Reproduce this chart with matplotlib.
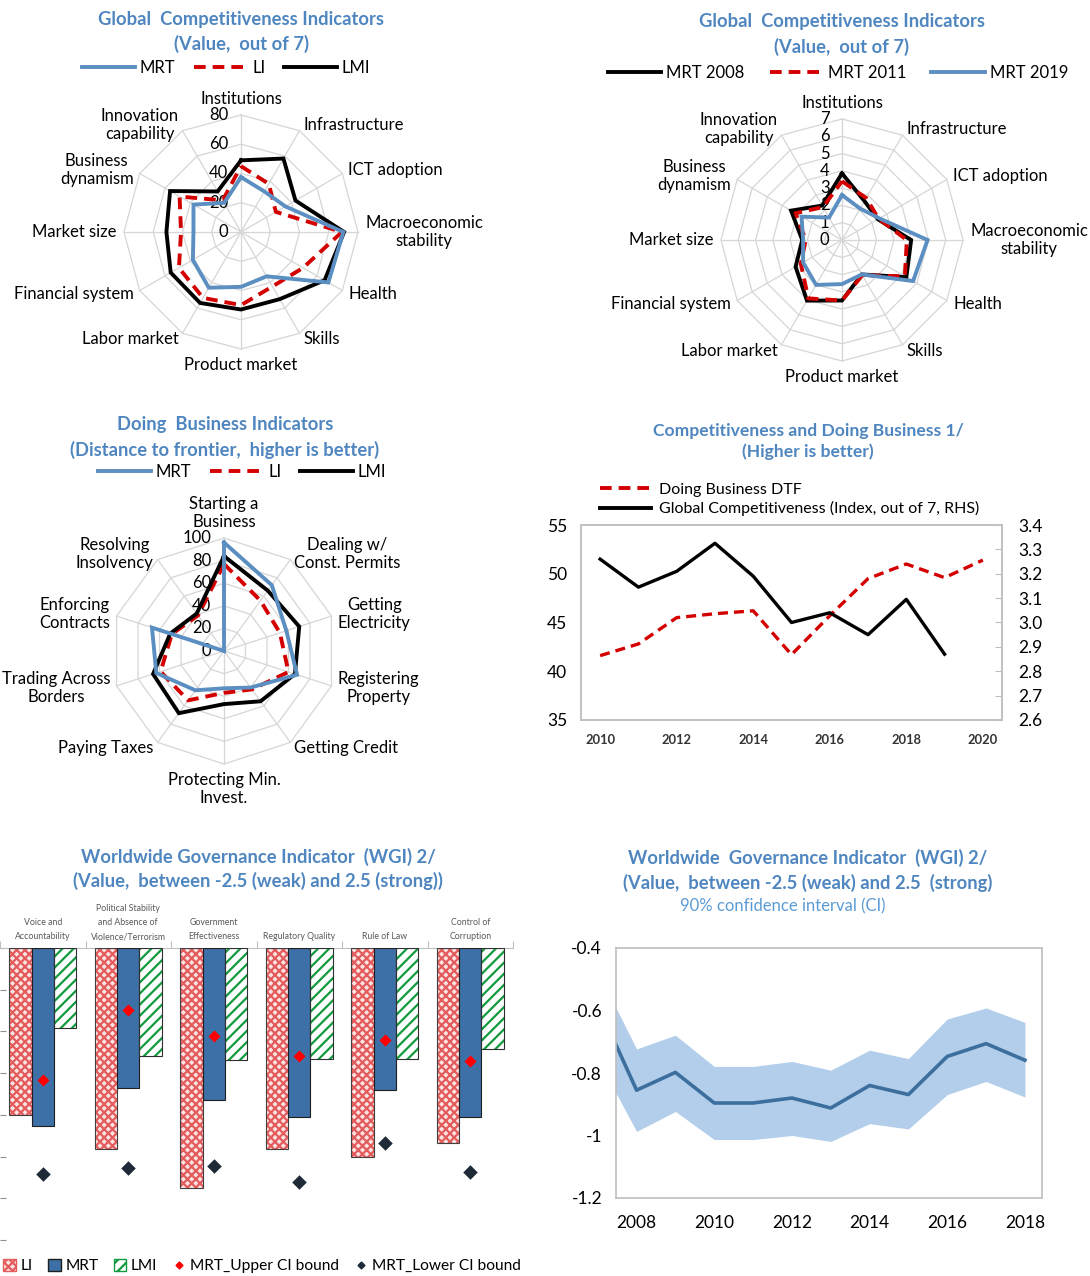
import numpy as np
import matplotlib
matplotlib.use("Agg")
import matplotlib.pyplot as plt
from matplotlib.lines import Line2D
from matplotlib.patches import Patch

plt.rcParams['font.family'] = ['Lato', 'DejaVu Sans']
plt.rcParams['hatch.linewidth'] = 1.6

# ---- data ----
gci_axes = ['Institutions', 'Infrastructure', 'ICT adoption', 'Macroeconomic\nstability', 'Health',
            'Skills', 'Product market', 'Labor market', 'Financial system', 'Market size',
            'Business\ndynamism', 'Innovation\ncapability']
mrt_gci = [37.5, 32, 35, 70, 69, 35, 37.5, 44, 38, 32.5, 37.5, 23]
li_gci = [45, 38, 27.5, 69, 49, 43, 50, 52, 49, 41, 48.5, 25]
lmi_gci = [49, 58, 43, 70.5, 66, 53, 53, 56, 55.5, 51, 56, 32]

mrt_2008 = [3.85, 2.6, 2.4, 4.0, 4.3, 2.3, 3.5, 4.05, 3.1, 2.3, 3.4, 2.3]
mrt_2011 = [3.4, 2.8, 2.45, 3.75, 4.2, 2.35, 3.5, 3.9, 2.75, 2.1, 3.1, 2.2]
mrt_2019 = [2.6, 2.1, 2.5, 4.95, 4.75, 2.3, 2.55, 3.0, 2.6, 2.25, 2.7, 1.5]

db_axes = ['Starting a\nBusiness', 'Dealing w/\nConst. Permits', 'Getting\nElectricity',
           'Registering\nProperty', 'Getting Credit', 'Protecting Min.\nInvest.', 'Paying Taxes',
           'Trading Across\nBorders', 'Enforcing\nContracts', 'Resolving\nInsolvency']
mrt_db = [96, 72, 58, 68, 40, 33, 43, 63, 67, 0]
li_db = [77, 55, 52, 60, 42, 37, 54, 59, 48.5, 39]
lmi_db = [84, 66, 70, 66, 55, 47, 68, 66, 50, 41]

dtf_years = [2010, 2011, 2012, 2013, 2014, 2015, 2016, 2017, 2018, 2019, 2020]
dtf = [41.6, 42.8, 45.5, 45.9, 46.2, 41.7, 45.7, 49.5, 51.0, 49.6, 51.4]
gci_years = [2010, 2011, 2012, 2013, 2014, 2015, 2016, 2017, 2018, 2019]
gci = [3.26, 3.145, 3.21, 3.325, 3.19, 3.0, 3.04, 2.95, 3.095, 2.87]

wgi_cats = ['Voice and\nAccountability', 'Political Stability\nand Absence of\nViolence/Terrorism',
            'Government\nEffectiveness', 'Regulatory Quality', 'Rule of Law', 'Control of\nCorruption']
wgi_li = [-0.80, -0.965, -1.149, -0.965, -1.003, -0.936]
wgi_mrt = [-0.853, -0.669, -0.728, -0.808, -0.68, -0.808]
wgi_lmi = [-0.384, -0.52, -0.539, -0.531, -0.531, -0.485]
wgi_upper = [-0.635, -0.296, -0.421, -0.517, -0.443, -0.544]
wgi_lower = [-1.085, -1.053, -1.045, -1.12, -0.936, -1.075]

ci_years = [2007, 2008, 2009, 2010, 2011, 2012, 2013, 2014, 2015, 2016, 2017, 2018]
ci_mid = [-0.581, -0.855, -0.798, -0.896, -0.896, -0.88, -0.912, -0.84, -0.869, -0.747, -0.706, -0.759]
ci_up = [-0.475, -0.723, -0.679, -0.779, -0.779, -0.763, -0.791, -0.727, -0.754, -0.627, -0.592, -0.638]
ci_lo = [-0.755, -0.987, -0.923, -1.013, -1.013, -1.0, -1.019, -0.962, -0.979, -0.869, -0.827, -0.877]

# ---- style ----
W, H = 1090, 1276
BLUE = '#5B8EC1'
RED = '#D40000'
TITLE = '#4F86C0'
GRID = '#D6D6D6'
FRAME = '#BFBFBF'
DASH = (3, 1.8)
FS = 12

fig = plt.figure(figsize=(W / 100, H / 100), dpi=100)


def px_box(l, t, r, b):
    return [l / W, 1 - b / H, (r - l) / W, (b - t) / H]


def title(x, y, s, size=13.2, weight='bold', color=TITLE):
    fig.text(x / W, 1 - y / H, s, ha='center', va='center', fontsize=size, weight=weight, color=color)


def radar(cx, cy, R, labels, series, vmax, step, fs=FS):
    ax = fig.add_axes(px_box(cx - R, cy - R, cx + R, cy + R), projection='polar')
    n = len(labels)
    ang = np.arange(n) * 2 * np.pi / n
    ax.set_theta_zero_location('N')
    ax.set_theta_direction(-1)
    ax.set_ylim(0, vmax)
    ax.axis('off')
    closed = np.append(ang, ang[0])
    for lev in np.arange(step, vmax + step / 2, step):
        ax.plot(closed, [lev] * (n + 1), color=GRID, lw=0.9, zorder=1, clip_on=False)
    for a in ang:
        ax.plot([a, a], [0, vmax], color=GRID, lw=0.9, zorder=1, clip_on=False)
    for lev in np.arange(0, vmax + step / 2, step):
        ax.annotate('%d' % lev, xy=(0, lev), xytext=(-9, 0), textcoords='offset points',
                    ha='right', va='center', fontsize=fs, zorder=2)
    for vals, color, dashed in series:
        v = np.append(vals, vals[0])
        line, = ax.plot(closed, v, color=color, lw=2.8, zorder=3, clip_on=False,
                        solid_joinstyle='miter')
        if dashed:
            line.set_dashes(DASH)
    for a, lab in zip(ang, labels):
        s, c = np.sin(a), np.cos(a)
        if abs(s) < 0.1:
            ax.text(a, vmax * 1.07, lab, ha='center', va='bottom' if c > 0 else 'top',
                    multialignment='center', fontsize=fs, linespacing=1.15)
        else:
            ax.text(a, vmax * 1.06, lab, ha='left' if s > 0 else 'right', va='center',
                    multialignment='center', fontsize=fs, linespacing=1.15)
    return ax


def line_handle(color, dashed):
    h = Line2D([], [], color=color, lw=2.8)
    if dashed:
        h.set_dashes(DASH)
    return h


# ---- panel 1: GCI radar, MRT vs LI vs LMI ----
title(241, 20, 'Global  Competitiveness Indicators')
title(241, 44, '(Value,  out of 7)')
radar(241, 232, 117, gci_axes,
      [(lmi_gci, 'black', False), (li_gci, RED, True), (mrt_gci, BLUE, False)], 80, 20)
fig.legend([line_handle(BLUE, False), line_handle(RED, True), line_handle('black', False)],
           ['MRT', 'LI', 'LMI'], loc='center', bbox_to_anchor=(226 / W, 1 - 68 / H), ncol=3,
           frameon=False, handlelength=3.2, columnspacing=1.1, handletextpad=0.3, fontsize=FS)

# ---- panel 2: GCI radar, MRT over time ----
title(842, 22, 'Global  Competitiveness Indicators')
title(842, 47, '(Value,  out of 7)')
radar(842, 240, 121, gci_axes,
      [(mrt_2008, 'black', False), (mrt_2011, RED, True), (mrt_2019, BLUE, False)], 7, 1)
fig.legend([line_handle('black', False), line_handle(RED, True), line_handle(BLUE, False)],
           ['MRT 2008', 'MRT 2011', 'MRT 2019'], loc='center', bbox_to_anchor=(838 / W, 1 - 73 / H),
           ncol=3, frameon=False, handlelength=3.2, columnspacing=1.5, handletextpad=0.3, fontsize=FS)

# ---- panel 3: Doing Business radar ----
title(225, 425, 'Doing  Business Indicators')
title(225, 450, '(Distance to frontier,  higher is better)')
radar(224, 651, 113, db_axes,
      [(li_db, RED, True), (lmi_db, 'black', False), (mrt_db, BLUE, False)], 100, 20)
fig.legend([line_handle(BLUE, False), line_handle(RED, True), line_handle('black', False)],
           ['MRT', 'LI', 'LMI'], loc='center', bbox_to_anchor=(242 / W, 1 - 472 / H), ncol=3,
           frameon=False, handlelength=3.2, columnspacing=1.1, handletextpad=0.3, fontsize=FS)

# ---- panel 4: DTF and GCI over time ----
title(808, 431, 'Competitiveness and Doing Business 1/', size=12.6)
title(808, 452, '(Higher is better)', size=12.6)
ax4 = fig.add_axes(px_box(581, 525, 1002, 720))
l1, = ax4.plot(dtf_years, dtf, color=RED, lw=2.4)
l1.set_dashes(DASH)
ax4.set_xlim(2009.5, 2020.5)
ax4.set_ylim(35, 55)
ax4.set_yticks(np.arange(35, 56, 5))
ax4.set_xticks(np.arange(2010, 2021, 2))
ax4.tick_params(axis='y', length=0, labelsize=12.5, pad=10)
ax4.tick_params(axis='x', length=0, labelsize=9.3, pad=10)
for t in ax4.get_xticklabels():
    t.set_fontweight('bold')
    t.set_color('#333333')
tw = ax4.twinx()
l2, = tw.plot(gci_years, gci, color='black', lw=2.4)
tw.set_ylim(2.6, 3.4)
tw.set_yticks(np.round(np.arange(2.6, 3.41, 0.1), 1))
tw.set_yticklabels(['%.1f' % v for v in np.arange(2.6, 3.41, 0.1)])
tw.tick_params(axis='y', length=5, direction='in', color=FRAME, labelsize=12.5, pad=12)
for a in (ax4, tw):
    for sp in a.spines.values():
        sp.set_color(FRAME)
        sp.set_linewidth(1.1)
fig.legend([line_handle(RED, True), line_handle('black', False)],
           ['Doing Business DTF', 'Global Competitiveness (Index, out of 7, RHS)'],
           loc='upper left', bbox_to_anchor=(586 / W, 1 - 468 / H), frameon=False,
           handlelength=3.2, handletextpad=0.45, fontsize=11.5, labelspacing=0.3)

# ---- panel 5: WGI bars ----
title(258, 857, 'Worldwide Governance Indicator  (WGI) 2/')
title(258, 881, '(Value,  between -2.5 (weak) and 2.5 (strong))')
ax5 = fig.add_axes(px_box(0, 948, 513, 1240))
x = np.arange(len(wgi_cats))
bw = 0.26
ax5.bar(x - bw, wgi_li, bw, color='#FBE3E3', hatch='xxxx', edgecolor='#E35B5B', lw=0, zorder=2)
ax5.bar(x - bw, wgi_li, bw, fill=False, edgecolor='#404040', lw=0.8, zorder=3)
ax5.bar(x, wgi_mrt, bw, color='#3D70A6', edgecolor='#1F1F1F', lw=0.8, zorder=3)
ax5.bar(x + bw, wgi_lmi, bw, color='white', hatch='///', edgecolor='#119A3E', lw=0, zorder=2)
ax5.bar(x + bw, wgi_lmi, bw, fill=False, edgecolor='#303030', lw=0.8, zorder=3)
ax5.scatter(x, wgi_upper, marker='D', s=38, color='#FF0000', zorder=5, lw=0)
ax5.scatter(x, wgi_lower, marker='D', s=55, color='#1F2A38', zorder=5, lw=0)
ax5.set_xlim(-0.5, len(wgi_cats) - 0.5)
ax5.set_ylim(-1.4, 0)
ax5.xaxis.tick_top()
ax5.set_xticks(np.arange(-0.5, len(wgi_cats), 1))
ax5.set_xticklabels([])
ax5.tick_params(axis='x', length=5, color=FRAME, direction='out')
ax5.set_yticks(np.arange(-1.4, 0.01, 0.2))
ax5.set_yticklabels([])
ax5.tick_params(axis='y', length=4, color='#909090', direction='in')
for side in ('left', 'right', 'bottom'):
    ax5.spines[side].set_visible(False)
ax5.spines['top'].set_color(FRAME)
for i, lab in enumerate(wgi_cats):
    ax5.annotate(lab, xy=(i, 1), xycoords=('data', 'axes fraction'), xytext=(0, 5),
                 textcoords='offset points', ha='center', va='bottom', fontsize=6.3,
                 color='#595959', multialignment='center', linespacing=1.75)
h5 = [Patch(facecolor='#FBE3E3', hatch='xxxx', edgecolor='#E35B5B'),
      Patch(facecolor='#3D70A6', edgecolor='#1F1F1F'),
      Patch(facecolor='white', hatch='///', edgecolor='#119A3E'),
      Line2D([], [], ls='none', marker='D', ms=3.5, color='#FF0000'),
      Line2D([], [], ls='none', marker='D', ms=3.5, color='#1F2A38')]
fig.legend(h5, ['LI', 'MRT', 'LMI', 'MRT_Upper CI bound', 'MRT_Lower CI bound'], loc='center',
           bbox_to_anchor=(262 / W, 1 - 1266 / H), ncol=5, frameon=False, handlelength=0.8,
           handleheight=0.8, handletextpad=0.3, columnspacing=1.0, fontsize=11.2)

# ---- panel 6: WGI with CI band ----
title(808, 858, 'Worldwide  Governance Indicator  (WGI) 2/')
title(808, 883, '(Value,  between -2.5 (weak) and 2.5  (strong)')
title(783, 906, '90% confidence interval (CI)', size=12, weight='normal', color='#5B9BD5')
ax6 = fig.add_axes(px_box(616, 948, 1042, 1198))
ax6.fill_between(ci_years, ci_lo, ci_up, color='#B2CEEA', lw=0)
ax6.plot(ci_years, ci_mid, color='#3C6F9E', lw=2.6)
ax6.set_xlim(2007.47, 2018.44)
ax6.set_ylim(-1.2, -0.4)
ax6.set_yticks([-1.2, -1.0, -0.8, -0.6, -0.4])
ax6.set_yticklabels(['-1.2', '-1', '-0.8', '-0.6', '-0.4'])
ax6.set_xticks(np.arange(2008, 2019, 2))
ax6.tick_params(length=0, labelsize=12.5)
ax6.tick_params(axis='x', pad=12)
ax6.tick_params(axis='y', pad=10)
for sp in ax6.spines.values():
    sp.set_color(FRAME)
    sp.set_linewidth(1.2)

fig.savefig('out.png', dpi=100)
